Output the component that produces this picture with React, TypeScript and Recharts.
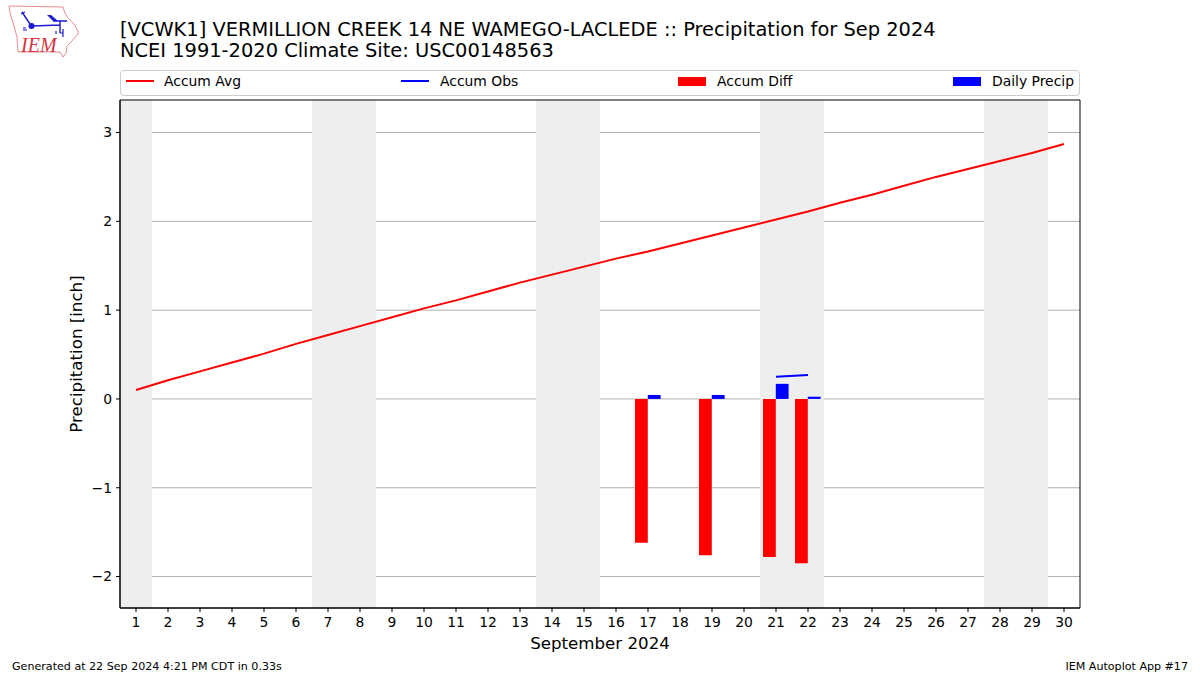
import {
  Bar,
  CartesianGrid,
  ComposedChart,
  Legend,
  Line,
  ReferenceArea,
  XAxis,
  YAxis,
} from 'recharts'

const FONT = '"DejaVu Sans", sans-serif'

const days = [
  1, 2, 3, 4, 5, 6, 7, 8, 9, 10, 11, 12, 13, 14, 15, 16, 17, 18, 19, 20, 21, 22, 23, 24, 25, 26, 27,
  28, 29, 30,
]
const accumAvg = [
  0.1, 0.21, 0.31, 0.41, 0.51, 0.62, 0.72, 0.82, 0.92, 1.02, 1.11, 1.21, 1.31, 1.4, 1.49, 1.58, 1.66,
  1.75, 1.84, 1.93, 2.02, 2.11, 2.21, 2.3, 2.4, 2.5, 2.59, 2.68, 2.77, 2.87,
]
const obsDays = [17, 19, 21, 22]
const accumObs = [0.045, 0.09, 0.25, 0.27]
const accumDiff = [-1.62, -1.76, -1.78, -1.85]
const dailyPrecip = [0.045, 0.045, 0.17, 0.025]
const weekends = [
  [0.5, 1.5],
  [6.5, 8.5],
  [13.5, 15.5],
  [20.5, 22.5],
  [27.5, 29.5],
]
const yTicks = [-2, -1, 0, 1, 2, 3]
const X_DOMAIN = [0.5, 30.5]
const Y_DOMAIN = [-2.354, 3.366]

const chartData = days.map((day, i) => {
  const o = obsDays.indexOf(day)
  return {
    day,
    avg: accumAvg[i],
    obs: o >= 0 ? accumObs[o] : null,
    diff: o >= 0 ? accumDiff[o] : null,
    daily: o >= 0 ? dailyPrecip[o] : null,
  }
})

const legendItems = [
  { label: 'Accum Avg', color: '#ff0000', kind: 'line', left: 5, textLeft: 43 },
  { label: 'Accum Obs', color: '#0000ff', kind: 'line', left: 280, textLeft: 319 },
  { label: 'Accum Diff', color: '#ff0000', kind: 'bar', left: 557, textLeft: 596 },
  { label: 'Daily Precip', color: '#0000ff', kind: 'bar', left: 832, textLeft: 871 },
]

function ChartLegend() {
  return (
    <div
      style={{
        position: 'relative',
        width: 958,
        height: 24,
        border: '1px solid #cccccc',
        borderRadius: 4,
        background: '#fff',
      }}
    >
      {legendItems.map((item) => (
        <div key={item.label}>
          <div
            style={{
              position: 'absolute',
              left: item.left,
              top: item.kind === 'line' ? 9 : 6,
              width: 28,
              height: item.kind === 'line' ? 2 : 9,
              background: item.color,
            }}
          />
          <div
            style={{
              position: 'absolute',
              left: item.textLeft,
              top: 1,
              fontFamily: FONT,
              fontSize: 13.9,
              lineHeight: '18px',
              whiteSpace: 'nowrap',
              color: '#000',
            }}
          >
            {item.label}
          </div>
        </div>
      ))}
    </div>
  )
}

function IemLogo() {
  return (
    <svg width={80} height={60} style={{ position: 'absolute', left: 0, top: 0 }}>
      <path
        d="M9 6 L63 7 L65 13 L68 18 L74 24 L78 31 L78 34 L71 42 L67 46 L66 53 L63 57 L60 52 L18 52 L17 37 L14 26 L10 13 Z"
        fill="#fff"
        stroke="#e58c94"
        strokeWidth={1}
      />
      <path d="M32 26 L60 25 M53 21 L67 21 M60 21 L60 33 M22 12 L30 24" stroke="#1a1ad0" strokeWidth={1.4} fill="none" />
      <path d="M47 15 L51 15 L58 21 L53 21 Z" fill="#1a1ad0" />
      <circle cx={31.5} cy={26} r={3} fill="#1a1ad0" />
      <path d="M21 14 L25 12 M23 28 h3 M23 30 h4 M56 31 v3 M63 29 v8 M60 33 h3" stroke="#1a1ad0" strokeWidth={1.2} fill="none" />
      <text x={21} y={52} fontFamily='"Liberation Serif", serif' fontStyle="italic" fontSize={20} fill="#d8343f">
        IEM
      </text>
    </svg>
  )
}

const textBase = { position: 'absolute', fontFamily: FONT, color: '#000', whiteSpace: 'nowrap' } as const

export default function App() {
  return (
    <div style={{ position: 'absolute', left: 0, top: 0, width: 1200, height: 675, background: '#fff', overflow: 'hidden' }}>
      <IemLogo />
      <div style={{ ...textBase, left: 120, top: 19, fontSize: 19.42, lineHeight: '22px' }}>
        [VCWK1] VERMILLION CREEK 14 NE WAMEGO-LACLEDE :: Precipitation for Sep 2024
      </div>
      <div style={{ ...textBase, left: 120, top: 40, fontSize: 19.42, lineHeight: '22px' }}>
        NCEI 1991-2020 Climate Site: USC00148563
      </div>
      <ComposedChart
        width={1200}
        height={675}
        data={chartData}
        margin={{ top: 74, right: 120, bottom: 27, left: 70 }}
        barGap={0}
        barSize={12.8}
        style={{ position: 'absolute', left: 0, top: 0 }}
      >
        {weekends.map(([start, end]) => (
          <ReferenceArea key={start} x1={start} x2={end} fill="#eeeeee" fillOpacity={1} stroke="none" />
        ))}
        <CartesianGrid vertical={false} horizontalValues={yTicks} stroke="#b0b0b0" strokeWidth={1} />
        <XAxis
          dataKey="day"
          type="number"
          domain={X_DOMAIN}
          ticks={days}
          interval={0}
          height={40}
          tickLine={{ stroke: '#000' }}
          tickSize={4}
          axisLine={{ stroke: '#000' }}
          tick={{ fill: '#000', fontFamily: FONT, fontSize: 13.9, dy: 3 }}
          label={{
            value: 'September 2024',
            position: 'insideBottom',
            offset: -1,
            fill: '#000',
            fontFamily: FONT,
            fontSize: 16.67,
          }}
        />
        <YAxis
          domain={Y_DOMAIN}
          ticks={yTicks}
          interval={0}
          width={50}
          tickSize={4}
          tickLine={{ stroke: '#000' }}
          axisLine={{ stroke: '#000' }}
          tick={{ fill: '#000', fontFamily: FONT, fontSize: 13.9, dx: -2 }}
          tickFormatter={(v: number) => String(v).replace('-', '\u2212')}
          allowDataOverflow
          label={{
            value: 'Precipitation [inch]',
            angle: -90,
            position: 'insideLeft',
            offset: 6,
            style: { textAnchor: 'middle' },
            fill: '#000',
            fontFamily: FONT,
            fontSize: 16.67,
          }}
        />
        <Legend
          content={<ChartLegend />}
          layout="horizontal"
          verticalAlign="top"
          align="left"
          wrapperStyle={{ position: 'absolute', left: 120, top: 70, width: 960 }}
        />
        <Bar dataKey="diff" name="Accum Diff" fill="#ff0000" isAnimationActive={false} />
        <Bar dataKey="daily" name="Daily Precip" fill="#0000ff" isAnimationActive={false} />
        <Line dataKey="avg" name="Accum Avg" stroke="#ff0000" strokeWidth={2} dot={false} isAnimationActive={false} />
        <Line dataKey="obs" name="Accum Obs" stroke="#0000ff" strokeWidth={2} dot={false} isAnimationActive={false} />
        <ReferenceArea x1={X_DOMAIN[0]} x2={X_DOMAIN[1]} fill="none" stroke="#000" strokeWidth={1} />
      </ComposedChart>
      <div style={{ ...textBase, left: 12, top: 660, fontSize: 11.1, lineHeight: '13px' }}>
        Generated at 22 Sep 2024 4:21 PM CDT in 0.33s
      </div>
      <div style={{ ...textBase, right: 12, top: 660, fontSize: 11.1, lineHeight: '13px' }}>IEM Autoplot App #17</div>
    </div>
  )
}
